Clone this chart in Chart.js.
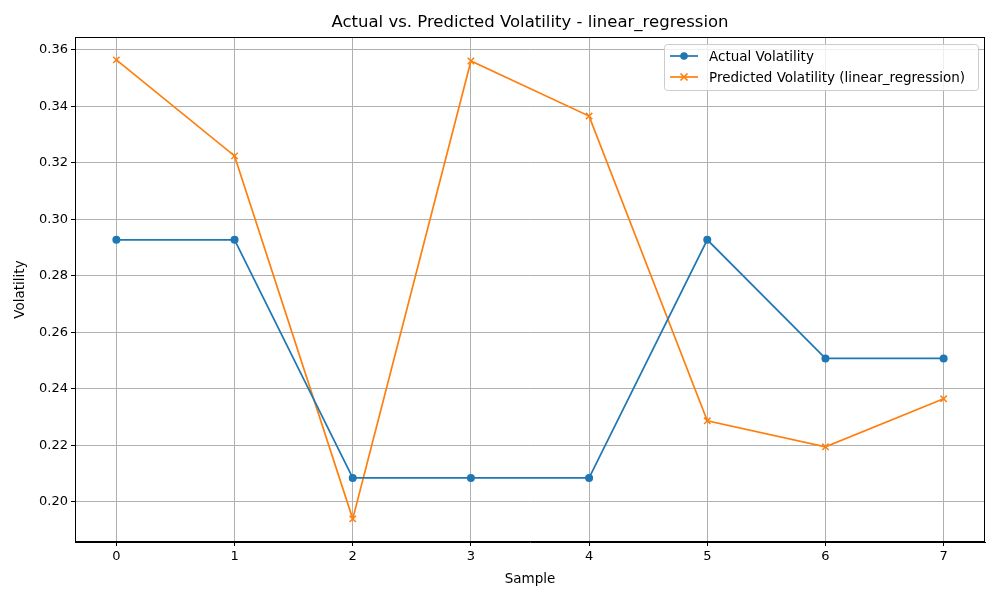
<!DOCTYPE html>
<html>
<head>
<meta charset="utf-8">
<script src="https://cdn.jsdelivr.net/npm/chart.js@4"></script>
<style>
  body { margin: 0; background: #fff; }
  #wrap { width: 1000px; height: 600px; }
</style>
</head>
<body>
<div id="wrap"><canvas id="myChart" width="1000" height="600"></canvas></div>
<script>
const samples = [0, 1, 2, 3, 4, 5, 6, 7];
const actual = [0.2928, 0.2928, 0.2085, 0.2085, 0.2085, 0.2928, 0.2508, 0.2508];
const predicted = [0.3565, 0.3225, 0.1940, 0.3561, 0.3366, 0.2287, 0.2195, 0.2365];
const yTicks = [0.20, 0.22, 0.24, 0.26, 0.28, 0.30, 0.32, 0.34, 0.36];

const blue = '#1f77b4';
const orange = '#ff7f0e';
const font = 'DejaVu Sans';

// title, frame and legend drawn by hand, matplotlib style
const extras = {
    id: 'extras',
    afterDraw(chart) {
        const c = chart.ctx;
        const area = chart.chartArea;
        c.save();
        c.strokeStyle = '#000';
        c.lineWidth = 1;
        c.strokeRect(area.left + 0.5, area.top + 0.5, area.right - area.left - 1, area.bottom - area.top - 1);

        c.fillStyle = '#000';
        c.font = '16.5px "' + font + '"';
        c.textAlign = 'center';
        c.textBaseline = 'middle';
        c.fillText('Actual vs. Predicted Volatility - linear_regression', (area.left + area.right) / 2, 23);

        // legend box
        const bx = 664, by = 44, bw = 314, bh = 46;
        c.fillStyle = 'rgba(255,255,255,0.8)';
        c.strokeStyle = '#cccccc';
        c.beginPath();
        c.roundRect(bx + 0.5, by + 0.5, bw, bh, 3);
        c.fill();
        c.stroke();
        const items = [
            { label: 'Actual Volatility', color: blue, mark: 'circle', y: 56 },
            { label: 'Predicted Volatility (linear_regression)', color: orange, mark: 'cross', y: 77 }
        ];
        c.font = '13.5px "' + font + '"';
        c.textAlign = 'left';
        items.forEach(it => {
            c.strokeStyle = it.color;
            c.fillStyle = it.color;
            c.lineWidth = 1.7;
            c.beginPath();
            c.moveTo(670, it.y);
            c.lineTo(698, it.y);
            c.stroke();
            if (it.mark === 'circle') {
                c.beginPath();
                c.arc(684, it.y, 3.8, 0, Math.PI * 2);
                c.fill();
            } else {
                c.beginPath();
                c.moveTo(680.5, it.y - 3.5); c.lineTo(687.5, it.y + 3.5);
                c.moveTo(687.5, it.y - 3.5); c.lineTo(680.5, it.y + 3.5);
                c.stroke();
            }
            c.fillStyle = '#000';
            c.fillText(it.label, 709, it.y + 1);
        });
        c.restore();
    }
};

const ctx = document.getElementById('myChart').getContext('2d');

new Chart(ctx, {
    type: 'line',
    data: {
        datasets: [
            {
                label: 'Actual Volatility',
                data: samples.map((s, i) => ({ x: s, y: actual[i] })),
                borderColor: blue,
                backgroundColor: blue,
                borderWidth: 1.7,
                pointStyle: 'circle',
                pointRadius: 4,
                pointBorderWidth: 0
            },
            {
                label: 'Predicted Volatility (linear_regression)',
                data: samples.map((s, i) => ({ x: s, y: predicted[i] })),
                borderColor: orange,
                backgroundColor: orange,
                borderWidth: 1.7,
                pointStyle: 'crossRot',
                pointRadius: 4.5,
                pointBorderWidth: 1.5
            }
        ]
    },
    options: {
        responsive: false,
        animation: false,
        layout: { padding: { top: 37, right: 15, left: 8, bottom: 8 } },
        plugins: {
            legend: { display: false },
            title: { display: false },
            tooltip: { enabled: false }
        },
        scales: {
            x: {
                type: 'linear',
                min: -0.35,
                max: 7.35,
                afterBuildTicks: axis => { axis.ticks = samples.map(v => ({ value: v })); },
                afterFit: axis => { axis.height = 50; },
                grid: { color: '#b0b0b0', tickColor: '#000', tickLength: 4 },
                border: { color: '#000' },
                ticks: { color: '#000', font: { family: font, size: 13 }, padding: 3 },
                title: { display: true, text: 'Sample', color: '#000', font: { family: font, size: 13.5 }, padding: { top: 0 } }
            },
            y: {
                min: 0.1858,
                max: 0.3646,
                afterBuildTicks: axis => { axis.ticks = yTicks.map(v => ({ value: v })); },
                afterFit: axis => { axis.width = 67; },
                grid: { color: '#b0b0b0', tickColor: '#000', tickLength: 4 },
                border: { color: '#000' },
                ticks: { color: '#000', font: { family: font, size: 13 }, padding: 3,
                    callback: v => v.toFixed(2) },
                title: { display: true, text: 'Volatility', color: '#000', font: { family: font, size: 13.5 }, padding: { bottom: 2 } }
            }
        }
    },
    plugins: [extras]
});
</script>
</body>
</html>
